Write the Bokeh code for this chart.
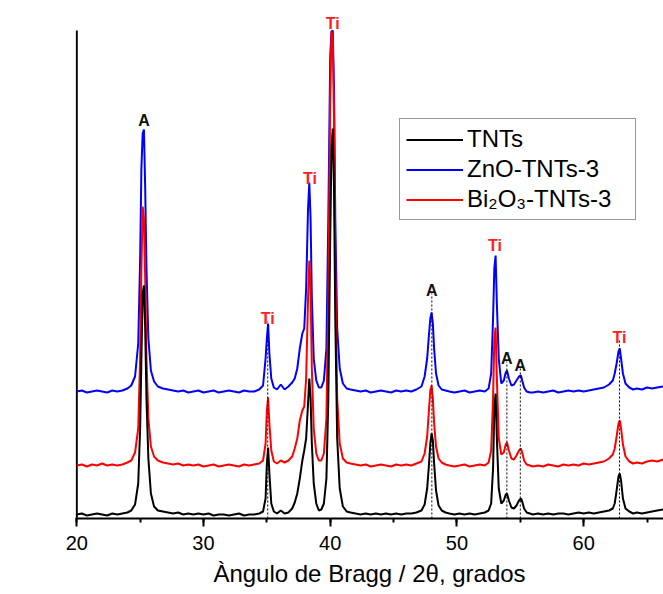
from bokeh.plotting import figure
from bokeh.models import Range1d, SingleIntervalTicker, Legend, LegendItem, Label, ColumnDataSource
from bokeh.core.properties import value
from bokeh.embed import file_html
from bokeh.resources import INLINE

# ---------------- data (a.u.) ----------------
two_theta = (
    [20.0, 20.4, 20.8, 21.2, 21.6, 22.0, 22.4, 22.8, 23.2, 23.6, 24.0]
    + [24.3, 24.6, 24.85, 25.0, 25.1, 25.2, 25.3, 25.4, 25.5, 25.65, 25.85, 26.1, 26.4]
    + [26.8, 27.2, 27.6, 28.0, 28.4, 28.8, 29.2, 29.6, 30.0, 30.4, 30.8, 31.2, 31.6, 32.0, 32.4, 32.8, 33.2, 33.6, 34.0, 34.4]
    + [34.7, 34.9, 35.0, 35.1, 35.2, 35.35, 35.55, 35.8]
    + [36.1, 36.4, 36.7, 37.0, 37.2]
    + [37.4, 37.6, 37.8, 37.95, 38.1, 38.25, 38.35, 38.45, 38.55, 38.7, 38.9, 39.1, 39.3, 39.5, 39.7, 39.85, 40.0, 40.1, 40.2, 40.3, 40.4, 40.55, 40.75, 41.0, 41.3]
    + [41.6, 42.0, 42.4, 42.8, 43.2, 43.6, 44.0, 44.4, 44.8, 45.2, 45.6, 46.0, 46.4, 46.8, 47.2]
    + [47.45, 47.65, 47.8, 47.9, 48.0, 48.1, 48.2, 48.35, 48.55, 48.8, 49.1]
    + [49.4, 49.8, 50.2, 50.6, 51.0, 51.4, 51.8, 52.2, 52.5]
    + [52.7, 52.85, 52.95, 53.05, 53.15, 53.3, 53.5, 53.7, 53.85, 53.95, 54.1, 54.3, 54.5, 54.7, 54.9, 55.05, 55.15, 55.3, 55.5, 55.75, 56.0]
    + [56.4, 56.8, 57.2, 57.6, 58.0, 58.4, 58.8, 59.2, 59.6, 60.0, 60.4, 60.8, 61.2, 61.6, 62.0, 62.3]
    + [62.45, 62.6, 62.75, 62.85, 62.95, 63.1, 63.3, 63.6]
    + [63.9, 64.2, 64.6, 65.0, 65.4, 65.8, 66.3]
)

tnts = (
    [4, 5, 3, 4, 5, 4, 3, 5, 4, 5, 6]
    + [8, 14, 35, 90, 160, 225, 233, 190, 120, 60, 25, 12, 8]
    + [7, 6, 5, 6, 4, 5, 4, 5, 4, 5, 3, 4, 4, 3, 4, 5, 3, 4, 4, 5]
    + [7, 20, 55, 71, 45, 15, 7, 5]
    + [8, 5, 6, 10, 16]
    + [25, 40, 58, 68, 80, 115, 140, 120, 75, 35, 15, 8, 9, 15, 40, 120, 280, 370, 390, 330, 200, 80, 30, 12, 7]
    + [6, 5, 4, 5, 4, 5, 4, 5, 4, 5, 4, 5, 5, 6, 8]
    + [14, 30, 55, 75, 85, 78, 55, 28, 13, 8, 6]
    + [5, 4, 5, 4, 5, 4, 5, 6, 8]
    + [15, 50, 110, 125, 80, 30, 15, 18, 24, 25, 18, 11, 10, 13, 18, 20, 17, 10, 6, 5, 4]
    + [5, 4, 5, 4, 5, 5, 4, 5, 6, 5, 6, 5, 6, 7, 8, 10]
    + [15, 28, 42, 45, 38, 20, 10, 7]
    + [5, 6, 5, 6, 7, 8, 9]
)

bi2o3_tnts3 = (
    [53, 54, 52, 54, 53, 55, 53, 54, 53, 54, 56]
    + [58, 66, 90, 160, 250, 312, 300, 240, 160, 100, 72, 62, 58]
    + [56, 55, 54, 55, 53, 54, 53, 54, 52, 53, 54, 52, 53, 54, 53, 52, 54, 53, 54, 55]
    + [58, 75, 108, 121, 95, 68, 57, 55]
    + [58, 56, 58, 62, 70]
    + [80, 98, 108, 112, 140, 220, 258, 230, 150, 90, 65, 58, 58, 65, 100, 220, 420, 487, 480, 400, 250, 120, 75, 60, 56]
    + [55, 54, 53, 54, 52, 53, 54, 53, 52, 54, 53, 54, 53, 55, 57]
    + [65, 82, 110, 128, 133, 120, 95, 72, 60, 56, 54]
    + [53, 52, 53, 54, 52, 53, 54, 53, 56]
    + [68, 120, 180, 191, 140, 80, 64, 66, 74, 76, 68, 60, 59, 63, 68, 70, 66, 58, 54, 53, 52]
    + [53, 52, 54, 53, 52, 54, 53, 54, 53, 55, 54, 55, 56, 57, 60, 64]
    + [70, 82, 95, 98, 90, 74, 62, 57]
    + [55, 56, 55, 57, 58, 57, 59]
)

zno_tnts3 = (
    [127, 128, 126, 127, 128, 127, 126, 128, 127, 128, 130]
    + [133, 142, 175, 260, 350, 385, 389, 330, 250, 180, 148, 137, 132]
    + [130, 129, 128, 127, 128, 126, 127, 128, 126, 127, 128, 126, 127, 128, 127, 126, 128, 127, 127, 129]
    + [133, 160, 180, 195, 165, 140, 131, 129]
    + [134, 129, 132, 136, 140]
    + [150, 170, 185, 190, 230, 310, 336, 300, 220, 160, 138, 131, 131, 138, 170, 300, 462, 487, 488, 430, 300, 190, 150, 135, 130]
    + [129, 128, 127, 128, 126, 127, 128, 127, 126, 128, 127, 128, 127, 129, 132]
    + [142, 160, 185, 200, 206, 195, 170, 145, 133, 129, 128]
    + [127, 126, 127, 128, 126, 127, 128, 127, 130]
    + [145, 200, 250, 263, 215, 160, 135, 138, 146, 148, 140, 133, 134, 138, 142, 143, 138, 131, 127, 126, 126]
    + [127, 126, 127, 128, 126, 127, 128, 127, 128, 127, 128, 129, 130, 131, 134, 138]
    + [145, 155, 167, 170, 160, 145, 135, 131]
    + [129, 130, 129, 131, 130, 131, 132]
)

series_names = ["TNTs", "ZnO-TNTs-3", "Bi\u2082O\u2083-TNTs-3"]

peak_pos = [25.3, 35.07, 38.4, 40.2, 48.02, 53.0, 53.94, 55.0, 62.83]
peak_phase = ["A", "Ti", "Ti", "Ti", "A", "Ti", "A", "A", "Ti"]
peak_label_y = [398, 200, 340, 495, 228, 273, 160, 153, 181]
guided_peaks = [1, 4, 6, 7, 8]

# ---------------- figure ----------------
p = figure(width=663, height=594, output_backend="svg", toolbar_location=None,
           x_range=Range1d(19.9, 66.3), y_range=Range1d(0, 518),
           min_border_left=75, min_border_right=0, min_border_top=0, min_border_bottom=76)
p.outline_line_color = None
p.xgrid.visible = False
p.ygrid.visible = False
p.background_fill_color = "white"
p.border_fill_color = "white"
p.yaxis.visible = False

ax = p.xaxis[0]
ax.ticker = SingleIntervalTicker(interval=10, num_minor_ticks=2)
ax.axis_line_width = 2
ax.axis_line_color = "black"
ax.major_tick_line_width = 2
ax.minor_tick_line_width = 2
ax.major_tick_out = 8
ax.major_tick_in = 0
ax.minor_tick_out = 4
ax.minor_tick_in = 0
ax.major_label_text_font = "Liberation Sans"
ax.major_label_text_font_size = "20px"
ax.major_label_text_color = "black"
ax.major_label_standoff = 9
ax.axis_label = "\u00c0ngulo de Bragg / 2\u03b8, grados"
ax.axis_label_text_font = "Liberation Sans"
ax.axis_label_text_font_size = "24px"
ax.axis_label_text_font_style = "normal"
ax.axis_label_text_color = "black"
ax.axis_label_standoff = 7

# left spine (starts below the top of the canvas, like the reference)
p.segment(x0=[20], y0=[0], x1=[20], y1=[488], line_color="black", line_width=2)

src = ColumnDataSource(dict(x=two_theta, tnts=tnts, zno=zno_tnts3, bi=bi2o3_tnts3))
r_zno = p.line("x", "zno", source=src, line_color="#0000FF", line_width=2)
r_bi = p.line("x", "bi", source=src, line_color="#FF0000", line_width=2)
r_tnts = p.line("x", "tnts", source=src, line_color="black", line_width=2)

# dotted guide lines
gx = [peak_pos[i] for i in guided_peaks]
gtop = [peak_label_y[i] - 3 for i in guided_peaks]
p.segment(x0=gx, y0=[0] * len(gx), x1=gx, y1=gtop, line_color="black",
          line_width=1, line_dash="2 2")

# peak labels
a_idx = [i for i, s in enumerate(peak_phase) if s == "A"]
t_idx = [i for i, s in enumerate(peak_phase) if s == "Ti"]
p.text(x=[peak_pos[i] for i in a_idx], y=[peak_label_y[i] for i in a_idx],
       text=[peak_phase[i] for i in a_idx], text_font=value("Liberation Sans"),
       text_font_size="16px", text_font_style="bold", text_color="#111111",
       text_align="center", text_baseline="alphabetic")
p.text(x=[peak_pos[i] for i in t_idx], y=[peak_label_y[i] for i in t_idx],
       text=[peak_phase[i] for i in t_idx], text_font=value("Liberation Sans"),
       text_font_size="16px", text_font_style="bold", text_color="#FF2020",
       text_align="center", text_baseline="alphabetic")

# y axis title
ylab = Label(x=-30, y=228, x_units="screen", y_units="screen", angle=90, angle_units="deg",
             text="Intensidad / u.a", text_font="Liberation Sans", text_font_size="24px",
             text_align="center", text_baseline="middle", text_color="black")
p.add_layout(ylab)

legend = Legend(items=[LegendItem(label=series_names[0], renderers=[r_tnts]),
                       LegendItem(label=series_names[1], renderers=[r_zno]),
                       LegendItem(label=series_names[2], renderers=[r_bi])],
                location=(324, 298))
legend.label_text_font = "Liberation Sans"
legend.label_text_font_size = "24px"
legend.label_text_color = "black"
legend.glyph_width = 57
legend.glyph_height = 27
legend.label_height = 27
legend.label_width = 162
legend.label_standoff = 4
legend.spacing = 2
legend.padding = 6
legend.margin = 0
legend.border_line_color = "#333333"
legend.border_line_width = 1.5
legend.background_fill_color = "white"
legend.background_fill_alpha = 1
p.add_layout(legend, "center")

open("out.html", "w").write(file_html(p, INLINE))
